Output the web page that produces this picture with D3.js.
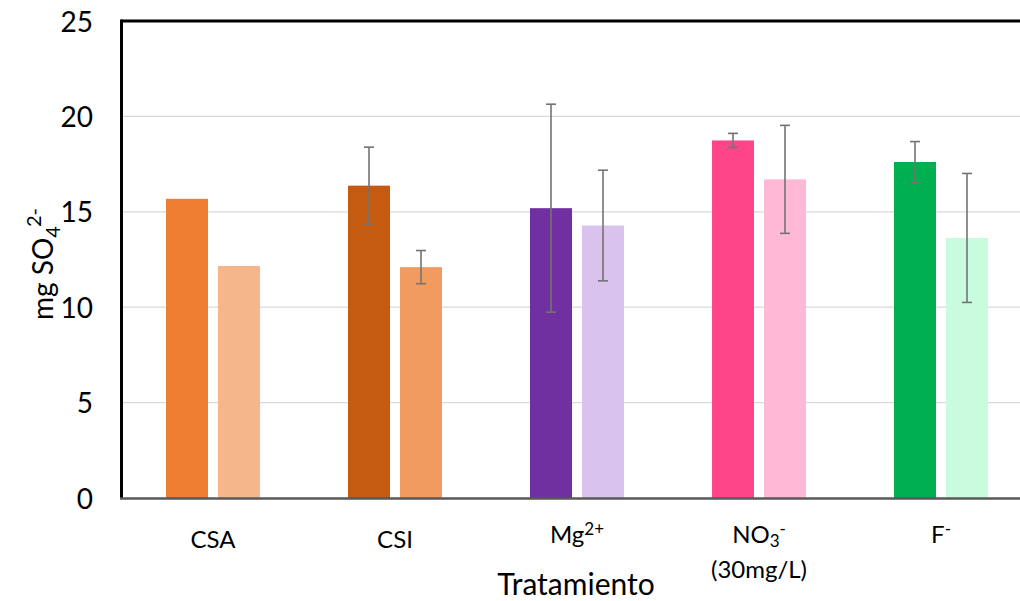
<!DOCTYPE html>
<html>
<head>
<meta charset="utf-8">
<script src="https://cdn.jsdelivr.net/npm/d3@7"></script>
<style>
  html, body { margin: 0; padding: 0; background: #fff; }
  svg { display: block; font-family: Lato, "Open Sans", sans-serif; }
</style>
</head>
<body>
<svg id="chart" width="1020" height="601"></svg>
<script>
// Treatments on the x axis
const categories = ["CSA", "CSI", "Mg", "NO3", "F"];
// Two bars per treatment: first and second measurement (mg SO4 2-)
const seriesA = [15.68, 16.37, 15.19, 18.74, 17.61];
const seriesB = [12.16, 12.10, 14.28, 16.70, 13.63];
// Error bar half-widths (null = no error bar)
const errA = [null, 2.02, 5.45, 0.37, 1.07];
const errB = [null, 0.87, 2.90, 2.83, 3.38];
// Bar colours per treatment
const colorsA = ["#ED7D31", "#C55A11", "#7030A0", "#FF4589", "#00B050"];
const colorsB = ["#F5B68C", "#F19B60", "#D9C2EC", "#FFB9D6", "#C9FCDE"];
const yTicks = [0, 5, 10, 15, 20, 25];

const svg = d3.select("#chart");
const mLeft = 122, mTop = 21, mBottom = 498;
const bandWidth = 182;
const mRight = mLeft + bandWidth * categories.length;

const x = d3.scaleBand().domain(categories).range([mLeft, mRight]).paddingInner(0).paddingOuter(0);
const y = d3.scaleLinear().domain([0, 25]).range([mBottom, mTop]);

// horizontal gridlines
svg.append("g").selectAll("line").data(yTicks.filter(t => t > 0 && t < 25)).join("line")
  .attr("x1", mLeft).attr("x2", mRight)
  .attr("y1", d => y(d)).attr("y2", d => y(d))
  .attr("stroke", "#d9d9d9").attr("stroke-width", 1.3);

// bars
const barW = 42, gap = 10;
const rows = categories.map((c, i) => ({ c, i }));
const cx = d => x(d.c) + x.bandwidth() / 2;

svg.append("g").selectAll("rect").data(rows).join("rect")
  .attr("x", d => cx(d) - gap / 2 - barW)
  .attr("y", d => y(seriesA[d.i]))
  .attr("width", barW)
  .attr("height", d => y(0) - y(seriesA[d.i]))
  .attr("fill", d => colorsA[d.i]);

svg.append("g").selectAll("rect").data(rows).join("rect")
  .attr("x", d => cx(d) + gap / 2)
  .attr("y", d => y(seriesB[d.i]))
  .attr("width", barW)
  .attr("height", d => y(0) - y(seriesB[d.i]))
  .attr("fill", d => colorsB[d.i]);

// error bars
function errorBars(vals, errs, offset) {
  const g = svg.append("g").attr("stroke", "#737373").attr("stroke-width", 1.6);
  rows.filter(d => errs[d.i] != null).forEach(d => {
    const xc = cx(d) + offset;
    const hi = y(vals[d.i] + errs[d.i]), lo = y(vals[d.i] - errs[d.i]);
    g.append("line").attr("x1", xc).attr("x2", xc).attr("y1", hi).attr("y2", lo);
    g.append("line").attr("x1", xc - 5).attr("x2", xc + 5).attr("y1", hi).attr("y2", hi);
    g.append("line").attr("x1", xc - 5).attr("x2", xc + 5).attr("y1", lo).attr("y2", lo);
  });
}
errorBars(seriesA, errA, -gap / 2 - barW / 2);
errorBars(seriesB, errB, gap / 2 + barW / 2);

// frame: top border and left axis
svg.append("line").attr("x1", mLeft - 1).attr("x2", mRight).attr("y1", mTop).attr("y2", mTop)
  .attr("stroke", "#000").attr("stroke-width", 3);
svg.append("line").attr("x1", mLeft - 0.5).attr("x2", mLeft - 0.5).attr("y1", mTop - 1.5).attr("y2", mBottom + 1)
  .attr("stroke", "#000").attr("stroke-width", 3);
// baseline
svg.append("line").attr("x1", mLeft - 2).attr("x2", mRight).attr("y1", mBottom + 0.5).attr("y2", mBottom + 0.5)
  .attr("stroke", "#595959").attr("stroke-width", 2.5);

// y axis tick labels
const yAxis = d3.axisLeft(y).tickValues(yTicks).tickSize(0).tickPadding(0);
const ya = svg.append("g").attr("transform", `translate(${mLeft - 29},0)`).call(yAxis);
ya.select(".domain").remove();
ya.selectAll("text").attr("font-size", 28).attr("fill", "#000").attr("font-family", "Lato, sans-serif")
  .attr("dy", "0.36em");

// x category labels with chemical notation
const xl = svg.append("g").attr("font-size", 24).attr("fill", "#000").attr("text-anchor", "middle");
function catLabel(i, parts, yy) {
  const t = xl.append("text").attr("x", cx(rows[i])).attr("y", yy);
  parts.forEach(p => {
    const s = t.append("tspan").text(p.t);
    if (p.sup) s.attr("font-size", 17).attr("baseline-shift", "8");
    if (p.sub) s.attr("font-size", 17).attr("baseline-shift", "-4");
  });
  return t;
}
catLabel(0, [{ t: "CSA" }], 548);
catLabel(1, [{ t: "CSI" }], 548);
catLabel(2, [{ t: "Mg" }, { t: "2+", sup: true }], 543);
catLabel(3, [{ t: "NO" }, { t: "3", sub: true }, { t: "-", sup: true }], 543);
catLabel(3, [{ t: "(30mg/L)" }], 578);
catLabel(4, [{ t: "F" }, { t: "-", sup: true }], 543);

// axis titles
svg.append("text").attr("x", 576).attr("y", 595).attr("text-anchor", "middle")
  .attr("font-size", 30).attr("fill", "#000").text("Tratamiento");

const yt = svg.append("text").attr("transform", "translate(53,264) rotate(-90)")
  .attr("text-anchor", "middle").attr("font-size", 28).attr("fill", "#000");
yt.append("tspan").text("mg SO");
yt.append("tspan").text("4").attr("font-size", 20).attr("baseline-shift", "-7");
yt.append("tspan").text("2-").attr("font-size", 20).attr("baseline-shift", "12").attr("dx", -1);
</script>
</body>
</html>
